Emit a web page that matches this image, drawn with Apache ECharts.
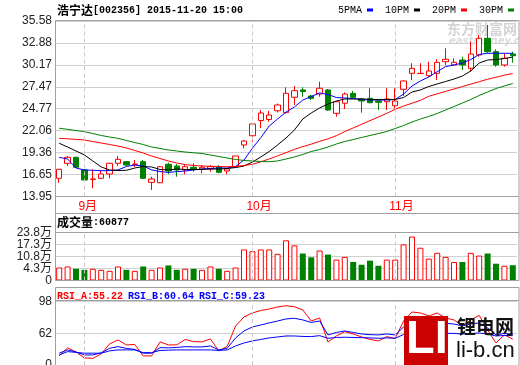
<!DOCTYPE html>
<html><head><meta charset="utf-8">
<script src="https://cdn.jsdelivr.net/npm/echarts@6/dist/echarts.min.js"></script>
<style>html,body{margin:0;padding:0;background:#fff}#c{width:520px;height:365px}</style>
</head><body><div id="c"></div>
<script>
// ---------- data ----------
const dates = ['2015-08-27','2015-08-28','2015-08-31',
'2015-09-01','2015-09-02','2015-09-07','2015-09-08','2015-09-09','2015-09-10','2015-09-11','2015-09-14','2015-09-15','2015-09-16','2015-09-17','2015-09-18','2015-09-21','2015-09-22','2015-09-23','2015-09-24','2015-09-25','2015-09-28','2015-09-29','2015-09-30',
'2015-10-08','2015-10-09','2015-10-12','2015-10-13','2015-10-14','2015-10-15','2015-10-16','2015-10-19','2015-10-20','2015-10-21','2015-10-22','2015-10-23','2015-10-26','2015-10-27','2015-10-28','2015-10-29','2015-10-30',
'2015-11-02','2015-11-03','2015-11-04','2015-11-05','2015-11-06','2015-11-09','2015-11-10','2015-11-11','2015-11-12','2015-11-13','2015-11-16','2015-11-17','2015-11-18','2015-11-19','2015-11-20'];
const open  = [16.19,18.04,18.78,17.22,16.05,16.19,16.72,18.04,18.24,17.90,18.24,15.70,15.65,17.92,17.71,17.22,17.55,17.34,17.34,17.62,17.09,17.62,20.30,21.44,23.32,23.44,24.52,24.28,26.18,27.08,26.34,26.58,27.08,24.20,25.44,26.67,25.97,26.05,25.72,25.63,25.14,27.16,29.13,29.10,28.84,29.13,30.56,30.16,30.77,29.75,31.39,33.45,31.80,30.16,31.51];
const close = [17.30,18.78,17.55,15.98,16.11,16.72,18.04,18.53,17.83,17.95,16.19,16.11,17.62,17.09,17.22,17.62,17.30,17.55,17.62,16.93,17.34,18.94,20.79,22.89,24.24,23.99,25.23,26.67,26.99,26.89,26.05,27.29,24.61,25.63,26.58,26.18,25.72,25.51,25.56,25.97,25.72,28.19,29.75,29.13,29.42,30.49,30.86,30.49,30.16,31.51,33.45,31.80,30.16,30.98,31.30];
const low   = [15.65,17.71,17.50,15.90,14.96,16.10,16.19,17.71,17.75,17.58,16.15,14.75,15.60,16.72,16.39,16.69,17.01,16.81,17.01,16.81,16.69,17.50,19.89,20.70,22.39,23.17,24.30,24.20,25.23,26.25,25.85,26.25,24.50,23.79,24.73,25.97,24.28,25.44,24.61,24.61,24.82,26.34,28.31,29.05,28.72,28.31,30.16,30.07,29.54,29.33,31.18,31.60,29.95,29.95,30.44];
const high  = [17.35,18.94,18.85,17.30,17.30,17.22,18.10,18.94,18.30,18.45,18.45,16.39,17.70,18.12,17.95,17.83,18.04,17.83,17.83,17.83,17.34,18.94,20.91,22.95,24.61,24.49,25.40,27.41,27.57,27.41,26.46,28.10,27.20,25.70,26.77,26.95,26.09,27.29,25.84,27.29,27.29,28.25,30.37,30.37,30.56,30.86,32.22,30.98,31.18,33.03,33.85,35.09,32.09,31.60,31.80];
const ma5  = [18.78,18.57,17.46,17.22,17.18,17.13,17.15,17.22,17.65,17.83,17.71,17.22,17.03,16.91,17.01,17.09,17.22,17.34,17.40,17.46,17.46,17.65,18.45,19.90,21.20,22.64,23.50,24.36,24.98,25.84,26.27,26.71,26.52,26.15,26.09,26.03,25.91,25.84,25.84,25.84,25.91,26.58,27.57,28.19,28.68,29.33,29.97,30.16,30.40,30.83,31.45,31.60,31.60,31.60,31.60];
const ma10 = [20.51,20.05,19.56,19.07,18.33,17.59,17.22,17.15,17.18,17.46,17.65,17.59,17.28,17.22,17.34,17.28,17.28,17.28,17.34,17.34,17.40,17.52,17.71,18.20,18.82,19.50,20.30,21.16,22.14,23.50,24.24,24.86,25.35,25.72,25.97,25.97,25.97,25.91,25.91,25.91,25.91,26.15,26.83,27.08,27.51,27.82,28.12,28.43,28.80,29.42,30.40,30.77,30.83,30.96,31.14];
const ma20 = [21.12,21.06,20.99,20.91,20.73,20.54,20.36,20.17,19.93,19.62,19.31,18.94,18.63,18.33,18.08,17.89,17.77,17.71,17.67,17.65,17.62,17.65,17.77,17.92,18.22,18.58,18.95,19.35,19.75,20.10,20.40,20.75,21.05,21.45,21.95,22.40,22.85,23.30,23.75,24.20,24.70,25.10,25.45,25.80,26.30,26.60,26.90,27.20,27.50,27.80,28.10,28.40,28.65,28.90,29.10];
const ma30 = [22.36,22.23,22.08,21.94,21.71,21.47,21.28,21.12,20.85,20.60,20.36,20.05,19.87,19.68,19.56,19.43,19.34,19.25,19.06,18.88,18.69,18.51,18.39,18.33,18.26,18.24,18.33,18.57,18.82,19.13,19.50,19.74,20.05,20.42,20.73,20.97,21.22,21.47,21.71,21.96,22.33,22.70,23.13,23.50,23.81,24.18,24.61,25.04,25.47,25.91,26.40,26.83,27.26,27.57,27.88];
// volume in 万 (10k)
const volume = [4.85,5.40,4.14,3.59,4.14,3.59,3.03,5.40,3.59,3.03,5.40,3.59,4.85,5.95,3.59,4.14,4.14,3.59,5.40,4.14,3.03,4.85,14.61,13.67,14.61,14.61,12.24,19.56,16.81,12.40,10.36,14.05,11.85,9.10,10.58,7.83,6.34,8.54,5.79,9.10,9.10,17.36,21.60,15.54,9.65,12.79,10.58,7.83,7.83,12.79,11.30,12.40,6.89,5.79,6.0877];
const rsiA = [36.3,45.4,40.8,34.0,33.5,38.6,49.9,54.4,48.8,49.3,36.3,36.3,52.2,48.8,48.8,55.0,52.5,52.2,55.6,42.0,47.1,70.3,80.5,85.0,87.8,89.5,91.8,93.2,92.1,88.4,75.9,79.3,52.2,58.9,63.8,61.2,57.8,55.0,53.3,58.2,56.1,75.9,86.1,85.0,81.6,85.0,79.3,77.1,70.3,77.1,82.2,65.7,51.0,60.1,55.22];
const rsiB = [39.4,43.1,40.8,37.4,37.4,39.7,45.0,46.8,44.8,43.7,39.4,39.4,45.7,45.4,45.9,46.8,46.5,46.5,47.6,43.1,45.0,56.7,64.6,69.1,71.4,73.7,75.9,78.2,79.0,77.1,74.2,75.9,60.1,62.9,64.6,62.9,61.2,60.4,60.1,61.2,60.1,69.1,74.8,74.8,73.1,74.2,73.3,72.5,70.3,72.5,73.7,68.0,60.1,61.8,60.64];
const rsiC = [37.4,41.2,40.3,39.4,39.4,39.4,42.0,43.1,43.1,43.1,40.0,40.0,42.5,42.8,43.1,43.1,43.1,43.1,43.1,42.5,43.1,47.6,51.0,53.3,55.0,56.7,57.8,58.9,58.9,58.4,58.2,59.3,56.3,57.2,57.5,57.2,57.0,56.7,56.3,56.7,56.3,60.6,62.0,62.3,62.0,62.3,62.0,61.8,61.2,61.8,62.3,61.2,58.9,59.5,59.23];
const priceTicks = ['13.95','16.65','19.36','22.06','24.77','27.47','30.17','32.88','35.58'];
const volTicks = ['0','4.3万','10.8万','17.3万','23.8万'];
const rsiTicks = ['0','62','98'];
const monthIdx = [3, 23, 40];
const monthLabels = ['9月','10月','11月'];
const maNames = ['5PMA','10PM','20PM','30PM'];

// ---------- chart ----------
const priceMin = 13.95, priceMax = 35.58, priceStep = (priceMax - priceMin) / 8;
const volMin = -2.2, volMax = 23.8, volStep = 6.5;
const rsiMin = 26, rsiMax = 98, rsiStep = 36;
const RED = '#ff0000', GREEN = '#008000', BLUE = '#0000ff';
const GRIDC = '#d0d0d0', BORDER = '#a0a0a0';
const sans = '"Liberation Sans","Noto Sans CJK SC",sans-serif';
const mono = '"Liberation Mono",monospace';
const cjk = '"Noto Sans CJK SC",sans-serif';
const gl = 55, gr = 3;

const chart = echarts.init(document.getElementById('c'), null, {renderer: 'canvas', width: 520, height: 365});

function xAxis(gi, labels) {
  return {
    type: 'category', gridIndex: gi, data: dates, boundaryGap: true,
    axisLine: {show: false}, axisTick: {show: false}, splitLine: {show: false},
    axisLabel: labels ? {
      show: true,
      interval: (i) => monthIdx.indexOf(i) >= 0,
      formatter: (v, i) => monthLabels[monthIdx.indexOf(i)] || '',
      color: RED, fontFamily: sans, fontSize: 12, margin: 4,
      align: 'left', padding: [0, 0, 0, -6]
    } : {show: false}
  };
}
function yAxis(gi, min, max, step, ticks, extra) {
  return Object.assign({
    type: 'value', gridIndex: gi, min: min, max: max, interval: step, scale: true,
    axisLine: {show: false}, axisTick: {show: false},
    splitLine: {show: true, lineStyle: {color: GRIDC, width: 1, type: 'solid'}},
    axisLabel: {
      show: true, margin: 3, color: '#222', fontFamily: sans, fontSize: 12,
      formatter: (v) => ticks[Math.round((v - min) / step)] || ''
    }
  }, extra || {});
}
const monthMark = {
  silent: true, symbol: ['none', 'none'], label: {show: false},
  lineStyle: {color: '#c8c8c8', type: [4, 3], width: 1},
  emphasis: {disabled: true},
  data: monthIdx.map(i => ({xAxis: dates[i]}))
};
function helper(gi) {
  return {type: 'line', xAxisIndex: gi, yAxisIndex: gi, data: [], z: 1, silent: true, markLine: monthMark};
}
function maSeries(name, data, color) {
  return {type: 'line', name: name, data: data, xAxisIndex: 0, yAxisIndex: 0,
    symbol: 'none', showSymbol: false, smooth: false, silent: true,
    lineStyle: {width: 1, color: color}, itemStyle: {color: color}, z: 3};
}
function rsiSeries(name, data, color) {
  return {type: 'line', name: name, data: data, xAxisIndex: 2, yAxisIndex: 2,
    symbol: 'none', showSymbol: false, silent: true,
    lineStyle: {width: 1, color: color}, itemStyle: {color: color}, z: 3};
}
const box = (x, y, w, h) => ({type: 'rect', z: 100, silent: true,
  shape: {x: x, y: y, width: w, height: h}, style: {fill: null, stroke: BORDER, lineWidth: 1}});

const option = {
  animation: false,
  backgroundColor: '#fff',
  textStyle: {fontFamily: sans},
  title: [
    {left: 57, top: 3, padding: 0,
     text: '{c|浩宁达}{a|[002356] 2015-11-20 15:00}',
     textStyle: {rich: {c: {fontFamily: cjk, fontSize: 12, color: '#000', lineHeight: 14},
                        a: {fontFamily: mono, fontSize: 10, color: '#000', lineHeight: 14}}}},
    {left: 57, top: 215, padding: 0,
     text: '{c|成交量}{a|:' + Math.round(volume[volume.length - 1] * 10000) + '}',
     textStyle: {rich: {c: {fontFamily: cjk, fontSize: 12, color: '#000', lineHeight: 14},
                        a: {fontFamily: mono, fontSize: 10, color: '#000', lineHeight: 14}}}},
    {left: 57, top: 287, padding: 0,
     text: '{r|RSI_A:' + rsiA[54].toFixed(2) + '} {b|RSI_B:' + rsiB[54].toFixed(2) + '} {b|RSI_C:' + rsiC[54].toFixed(2) + '}',
     textStyle: {rich: {r: {fontFamily: mono, fontSize: 10, color: RED, lineHeight: 13},
                        b: {fontFamily: mono, fontSize: 10, color: BLUE, lineHeight: 13}}}}
  ],
  legend: {
    data: maNames.map(n => ({name: n, icon: 'rect'})),
    right: 6, top: 5, itemWidth: 6, itemHeight: 3, itemGap: 12, align: 'right',
    selectedMode: false, padding: 0,
    textStyle: {fontFamily: mono, fontSize: 10, color: '#000', padding: [0, 0, 0, 0]}
  },
  grid: [
    {left: gl, right: gr, top: 21, height: 175.5, outerBoundsMode: 'none'},
    {left: gl, right: gr, top: 232.5, height: 48, outerBoundsMode: 'none'},
    {left: gl, right: gr, top: 301.5, height: 63.5, outerBoundsMode: 'none'}
  ],
  xAxis: [xAxis(0, true), xAxis(1, false), xAxis(2, false)],
  yAxis: [
    yAxis(0, priceMin, priceMax, priceStep, priceTicks),
    yAxis(1, volMin, volMax, volStep, volTicks, {startValue: volMin}),
    yAxis(2, rsiMin, rsiMax, rsiStep, rsiTicks)
  ],
  series: [
    helper(0), helper(1), helper(2),
    {type: 'candlestick', xAxisIndex: 0, yAxisIndex: 0, barWidth: 6, silent: true, z: 2,
     data: dates.map((d, i) => [open[i], close[i], low[i], high[i]]),
     itemStyle: {color: '#ffffff', color0: GREEN, borderColor: RED, borderColor0: GREEN, borderWidth: 1}},
    maSeries(maNames[0], ma5, BLUE),
    maSeries(maNames[1], ma10, '#000000'),
    maSeries(maNames[2], ma20, RED),
    maSeries(maNames[3], ma30, GREEN),
    {type: 'bar', xAxisIndex: 1, yAxisIndex: 1, barWidth: 6, silent: true, z: 2,
     data: volume.map((v, i) => ({value: v,
       itemStyle: close[i] >= open[i] ? {color: '#ffffff', borderColor: RED, borderWidth: 1}
                                      : {color: GREEN, borderColor: GREEN, borderWidth: 0}}))},
    rsiSeries('RSI_A', rsiA, RED),
    rsiSeries('RSI_B', rsiB, BLUE),
    rsiSeries('RSI_C', rsiC, BLUE)
  ],
  graphic: [
    {type: 'text', z: 0, silent: true, x: 447, y: 22,
     style: {text: '东方财富网', font: 'bold 14px "Noto Sans CJK SC"', fill: '#d4d4d4', verticalAlign: 'top'}},
    {type: 'text', z: 0, silent: true, x: 449, y: 36,
     style: {text: 'eastmoney.com', font: 'italic bold 10px "DejaVu Sans"', fill: '#dcdcdc', verticalAlign: 'top'}},
    box(55.5, 20.5, 463.5, 176),
    box(55.5, 196.5, 463.5, 17),
    box(55.5, 213.5, 463.5, 19),
    box(55.5, 232.5, 463.5, 48),
    box(55.5, 287.5, 463.5, 13),
    box(55.5, 300.5, 463.5, 70),
    {type: 'rect', z: 110, silent: true, shape: {x: 404, y: 316, width: 44, height: 50}, style: {fill: '#cc0000'}},
    {type: 'text', z: 111, silent: true, x: 406, y: 317,
     style: {text: 'LI', font: 'bold 47px "Liberation Sans"', fill: '#ffffff', verticalAlign: 'top'}},
    {type: 'text', z: 111, silent: true, x: 457, y: 317,
     style: {text: '锂电网', font: 'bold 19px "Noto Sans CJK SC"', fill: '#111', verticalAlign: 'top'}},
    {type: 'text', z: 111, silent: true, x: 456, y: 340,
     style: {text: 'li-b.cn', font: '22px "Liberation Sans"', fill: '#111', verticalAlign: 'top'}}
  ]
};
chart.setOption(option);
</script>
</body></html>
